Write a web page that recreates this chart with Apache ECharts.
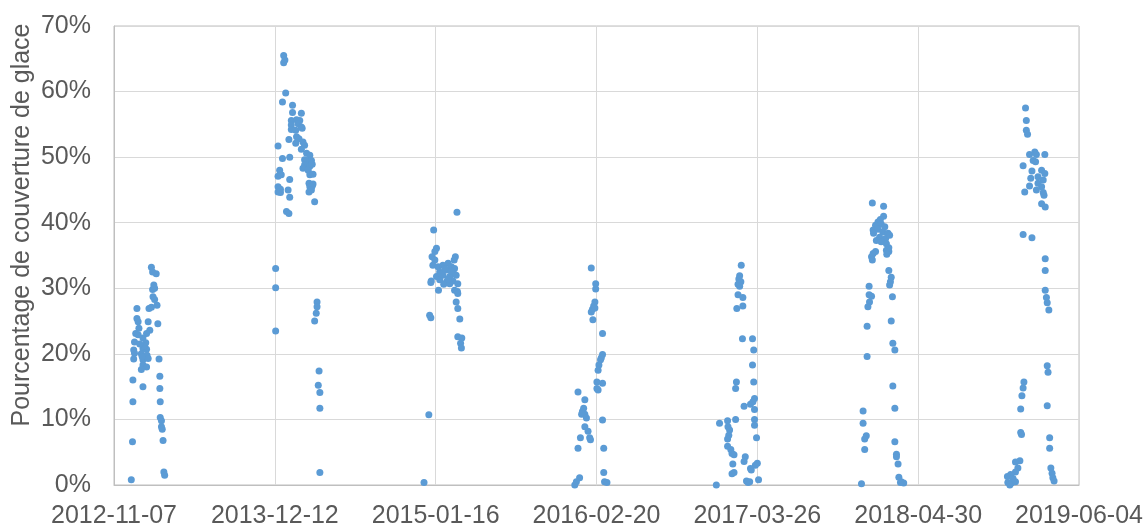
<!DOCTYPE html>
<html>
<head>
<meta charset="utf-8">
<script src="https://cdn.jsdelivr.net/npm/echarts@6/dist/echarts.min.js"></script>
<style>
  html, body { margin: 0; padding: 0; background: #ffffff; }
  #chart { width: 1147px; height: 527px; }
</style>
</head>
<body>
<div id="chart"></div>
<script>
// X axis: days counted from the first tick date, one tick every 400 days
const axisOrigin = '2012-11-07';
const tickStepDays = 400;
const tickLabels = ['2012-11-07', '2013-12-12', '2015-01-16', '2016-02-20', '2017-03-26', '2018-04-30', '2019-06-04'];

// Y axis ticks (percent)
const yTicks = [0, 10, 20, 30, 40, 50, 60, 70];

// First day of each winter; each winter's points are [days after that date, ice cover %]
const winterStarts = ['2012-12-01', '2013-12-01', '2014-12-01', '2015-12-01', '2016-12-01', '2017-12-01', '2018-12-01'];

const winter2013 = [
  [69,33.2],[72,32.5],[81,32.2],[75,30.5],[72,29.8],[77,30.0],[73,28.7],[77,28.3],[33,26.9],[63,26.9],
  [69,27.1],[83,27.4],[33,25.4],[36,24.9],[61,24.9],[85,24.6],[38,23.9],[65,23.6],[30,23.1],[36,22.9],
  [57,23.1],[27,21.8],[48,22.4],[55,21.7],[25,20.6],[48,20.8],[57,20.7],[27,20.1],[44,20.0],[58,19.8],
  [88,19.2],[25,19.2],[48,19.1],[61,19.3],[48,18.3],[57,18.0],[44,17.6],[90,16.6],[23,16.0],[48,15.0],
  [90,14.7],[23,12.7],[91,12.7],[91,10.3],[94,9.8],[94,8.9],[96,8.5],[22,6.6],[98,6.8],[100,2.0],
  [102,1.5],[19,0.8],[52,21.2],[40,21.5],[46,19.6]
];
const winter2014 = [
  [33,65.5],[36,64.8],[33,64.4],[38,59.8],[30,58.4],[55,57.9],[55,56.8],[77,56.7],[52,55.6],[65,55.7],
  [73,55.6],[52,54.9],[69,55.1],[77,54.6],[52,54.2],[63,54.1],[79,54.4],[46,52.7],[65,53.1],[71,52.8],
  [63,52.1],[81,52.3],[85,51.8],[19,51.7],[77,51.2],[90,50.6],[98,50.3],[30,49.8],[48,50.0],[85,49.6],
  [96,49.4],[102,49.5],[85,48.8],[98,48.6],[104,48.9],[81,48.3],[94,48.0],[23,48.0],[19,47.1],[27,47.3],
  [98,47.3],[106,47.4],[48,46.6],[96,46.0],[106,45.9],[19,45.5],[25,45.1],[98,45.5],[104,45.6],[44,45.0],
  [25,44.6],[19,44.7],[96,44.7],[102,45.0],[48,43.9],[110,43.2],[40,41.7],[46,41.4],[13,33.0],[13,30.1],
  [13,23.5],[116,27.9],[116,27.2],[114,26.2],[110,25.0],[121,17.4],[119,15.2],[123,14.1],[123,11.7],[123,1.9]
];
const winter2015 = [
  [99,41.6],[41,38.9],[48,36.1],[44,35.6],[37,34.8],[44,34.3],[39,33.5],[95,34.8],[92,34.3],[52,33.3],
  [64,33.5],[77,33.8],[85,33.3],[56,32.5],[73,32.8],[89,32.5],[93,33.0],[48,31.8],[64,32.0],[81,31.8],
  [97,32.0],[35,31.1],[56,31.3],[73,31.0],[89,31.1],[34,30.9],[66,30.6],[81,30.7],[101,30.7],[53,29.7],
  [93,29.7],[100,29.5],[101,29.2],[97,27.9],[101,26.9],[106,25.3],[101,22.6],[111,22.4],[108,21.6],[110,20.9],
  [31,25.9],[34,25.5],[29,10.7],[17,0.4],[60,32.2],[69,33.0],[85,32.6],[77,31.4]
];
const winter2016 = [
  [68,33.1],[79,30.7],[79,29.9],[77,27.9],[74,27.3],[71,26.8],[68,26.4],[72,25.2],[77,27.0],[96,23.1],
  [96,19.9],[91,19.1],[87,18.3],[85,17.5],[93,19.4],[82,15.7],[96,15.5],[82,14.7],[85,14.5],[35,14.2],
  [52,13.0],[49,11.7],[46,11.2],[52,10.8],[44,10.8],[56,10.2],[52,8.9],[60,8.2],[64,7.2],[41,7.2],
  [66,6.9],[96,9.9],[35,5.6],[99,5.6],[99,1.9],[39,1.1],[31,0.5],[27,0.0],[101,0.5],[107,0.4]
];
const winter2017 = [
  [75,33.5],[71,31.9],[69,31.4],[74,31.0],[67,30.6],[71,30.3],[67,29.0],[79,28.6],[64,26.9],[79,27.3],
  [78,22.3],[103,22.3],[106,20.6],[103,18.3],[63,15.7],[61,14.7],[106,15.7],[108,13.2],[104,12.7],[98,12.3],
  [82,12.0],[108,11.5],[61,10.0],[41,9.8],[21,9.4],[42,8.9],[46,8.4],[108,10.0],[108,9.1],[44,7.6],
  [41,7.0],[113,7.2],[41,5.9],[49,5.4],[52,4.8],[57,4.6],[85,4.3],[82,3.6],[54,3.2],[115,3.3],
  [110,3.0],[98,2.5],[100,2.3],[57,1.9],[52,1.7],[88,0.6],[92,0.4],[96,0.5],[118,0.8],[13,0.0]
];
const winter2018 = [
  [36,43.0],[64,42.5],[64,41.0],[56,40.5],[50,40.1],[44,39.6],[58,39.8],[67,39.4],[38,38.9],[50,39.0],
  [62,38.6],[75,38.4],[39,38.4],[54,37.8],[69,37.6],[79,38.1],[46,37.3],[58,37.1],[71,36.8],[77,36.2],
  [71,35.8],[77,35.6],[44,35.6],[38,35.3],[72,35.2],[34,34.8],[36,34.3],[77,32.7],[83,31.7],[81,31.0],
  [79,30.5],[28,30.3],[28,29.0],[34,28.8],[29,27.9],[25,27.2],[86,28.7],[23,24.2],[83,25.0],[87,21.6],
  [92,20.6],[23,19.6],[87,15.1],[92,11.7],[13,11.3],[13,9.4],[21,7.5],[17,7.0],[17,5.4],[92,6.6],
  [96,4.7],[96,4.3],[100,3.2],[102,1.2],[108,0.5],[114,0.3],[106,0.4],[9,0.2]
];
const winter2019 = [
  [52,57.5],[54,55.6],[54,54.1],[57,53.5],[100,50.4],[62,50.4],[75,50.8],[79,50.4],[71,49.5],[77,49.3],
  [46,48.7],[68,47.9],[92,48.0],[100,47.5],[65,46.8],[83,47.0],[96,46.5],[62,45.6],[83,46.0],[92,45.5],
  [50,44.7],[79,45.0],[96,44.6],[98,44.2],[92,42.9],[101,42.4],[46,38.2],[68,37.7],[101,34.5],[101,32.7],
  [101,29.7],[104,28.6],[106,27.8],[110,26.7],[106,18.2],[108,17.2],[48,15.7],[46,14.8],[43,13.6],[40,11.6],
  [106,12.1],[40,8.0],[42,7.7],[112,7.2],[112,5.6],[38,3.7],[27,3.5],[33,2.6],[27,2.0],[15,1.6],
  [7,1.3],[21,1.0],[8,0.4],[17,0.3],[27,0.5],[13,0.0],[115,2.6],[118,1.8],[120,1.1],[123,0.6]
];

const winters = [winter2013, winter2014, winter2015, winter2016, winter2017, winter2018, winter2019];

const DAY_MS = 86400000;
function dayIndex(iso) {
  const p = iso.split('-').map(Number);
  return Math.round(Date.UTC(p[0], p[1] - 1, p[2]) / DAY_MS);
}

// Convert every winter's points to days since the axis origin
const originDay = dayIndex(axisOrigin);
const points = [];
winters.forEach(function (rows, i) {
  const offset = dayIndex(winterStarts[i]) - originDay;
  rows.forEach(function (r) { points.push([offset + r[0], r[1]]); });
});

const textColor = '#595959';
const font = 'Liberation Sans, Arial, sans-serif';

const chart = echarts.init(document.getElementById('chart'), null, { renderer: 'canvas' });
chart.setOption({
  animation: false,
  backgroundColor: '#ffffff',
  grid: {
    left: 114, right: 68, top: 26, bottom: 42,
    outerBoundsMode: 'none',
    show: true, borderColor: '#bfbfbf', borderWidth: 1
  },
  xAxis: {
    type: 'value',
    min: 0,
    max: tickStepDays * (tickLabels.length - 1),
    interval: tickStepDays,
    axisLine: { show: true, lineStyle: { color: '#bfbfbf', width: 1 } },
    axisTick: { show: false },
    splitLine: { show: true, lineStyle: { color: '#d9d9d9', width: 1 } },
    axisLabel: {
      color: textColor, fontFamily: font, fontSize: 25, margin: 19,
      formatter: function (v) { return tickLabels[Math.round(v / tickStepDays)] || ''; }
    }
  },
  yAxis: {
    type: 'value',
    min: yTicks[0],
    max: yTicks[yTicks.length - 1],
    interval: yTicks[1] - yTicks[0],
    axisLine: { show: true, lineStyle: { color: '#bfbfbf', width: 1 } },
    axisTick: { show: false },
    splitLine: { show: true, lineStyle: { color: '#d9d9d9', width: 1 } },
    axisLabel: { color: textColor, fontFamily: font, fontSize: 25, margin: 23, formatter: '{value}%' }
  },
  graphic: [{
    type: 'text',
    x: 22, y: 225,
    rotation: Math.PI / 2,
    style: {
      text: 'Pourcentage de couverture de glace',
      fill: textColor,
      font: '25px Liberation Sans, Arial, sans-serif',
      textAlign: 'center',
      textVerticalAlign: 'middle'
    }
  }],
  series: [{
    type: 'scatter',
    data: points,
    symbol: 'circle',
    symbolSize: 7,
    itemStyle: { color: '#5B9BD5', opacity: 1 }
  }]
});
</script>
</body>
</html>
